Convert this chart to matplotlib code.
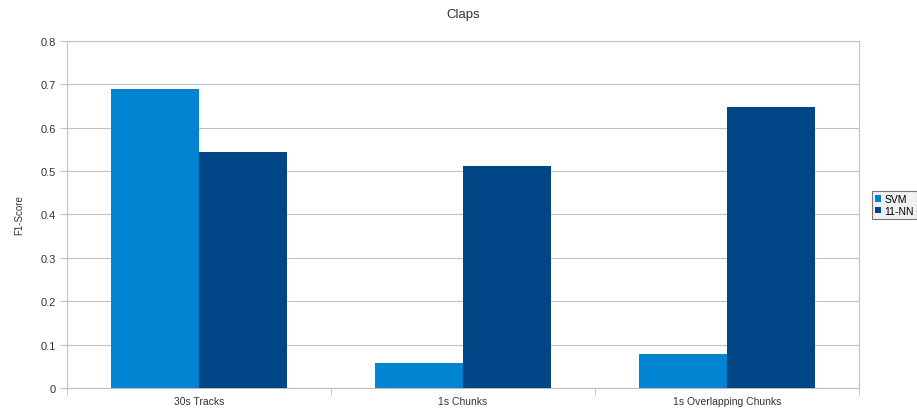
import numpy as np
import matplotlib
matplotlib.use('Agg')
import matplotlib.pyplot as plt

# Data
categories = ["30s Tracks", "1s Chunks", "1s Overlapping Chunks"]
svm_scores = [0.689, 0.058, 0.078]
knn_scores = [0.545, 0.512, 0.648]
series_names = ["SVM", "11-NN"]

plt.rcParams['font.family'] = ['Liberation Sans', 'DejaVu Sans']

fig = plt.figure(figsize=(9.17, 4.10), dpi=100)
ax = fig.add_axes([0.073, 0.0512, 0.864, 0.8464])

x = np.arange(len(categories))
width = 1 / 3
colors = ['#0084d1', '#004586']

ax.bar(x - width / 2, svm_scores, width, color=colors[0], label=series_names[0], zorder=3)
ax.bar(x + width / 2, knn_scores, width, color=colors[1], label=series_names[1], zorder=3)

# Axes
ax.set_xlim(-0.5, len(categories) - 0.5)
ax.set_ylim(0, 0.8)
ax.set_yticks(np.arange(0, 0.81, 0.1))
ax.set_yticklabels(['0', '0.1', '0.2', '0.3', '0.4', '0.5', '0.6', '0.7', '0.8'], fontsize=8, color='#333333')
ax.yaxis.grid(True, color='#c0c0c0', linewidth=0.8, zorder=0)
ax.tick_params(axis='y', length=5, color='#c0c0c0', pad=3)

# category labels centred, tick marks between categories
ax.set_xticks(x)
ax.set_xticklabels(categories, fontsize=7.5, color='#333333')
ax.tick_params(axis='x', length=0, pad=6)
ax.set_xticks(np.arange(-0.5, len(categories), 1), minor=True)
ax.tick_params(axis='x', which='minor', length=5, color='#c0c0c0')

for s in ax.spines.values():
    s.set_color('#c0c0c0')
    s.set_linewidth(0.8)

ax.set_ylabel('F1-Score', fontsize=7, color='#333333', labelpad=12)
ax.set_title('Claps', fontsize=9.5, color='#333333', pad=17)

leg = fig.legend(loc='upper left', bbox_to_anchor=(872 / 917, 1 - 192 / 410),
                 fontsize=7.5, frameon=True, fancybox=False, handlelength=0.6,
                 handleheight=0.6, handletextpad=0.3, borderpad=0.3,
                 labelspacing=0.15, borderaxespad=0)
leg.get_frame().set_edgecolor('#555555')
leg.get_frame().set_facecolor('#eeeeee')
leg.get_frame().set_linewidth(0.8)

fig.savefig('out.png', dpi=100)
